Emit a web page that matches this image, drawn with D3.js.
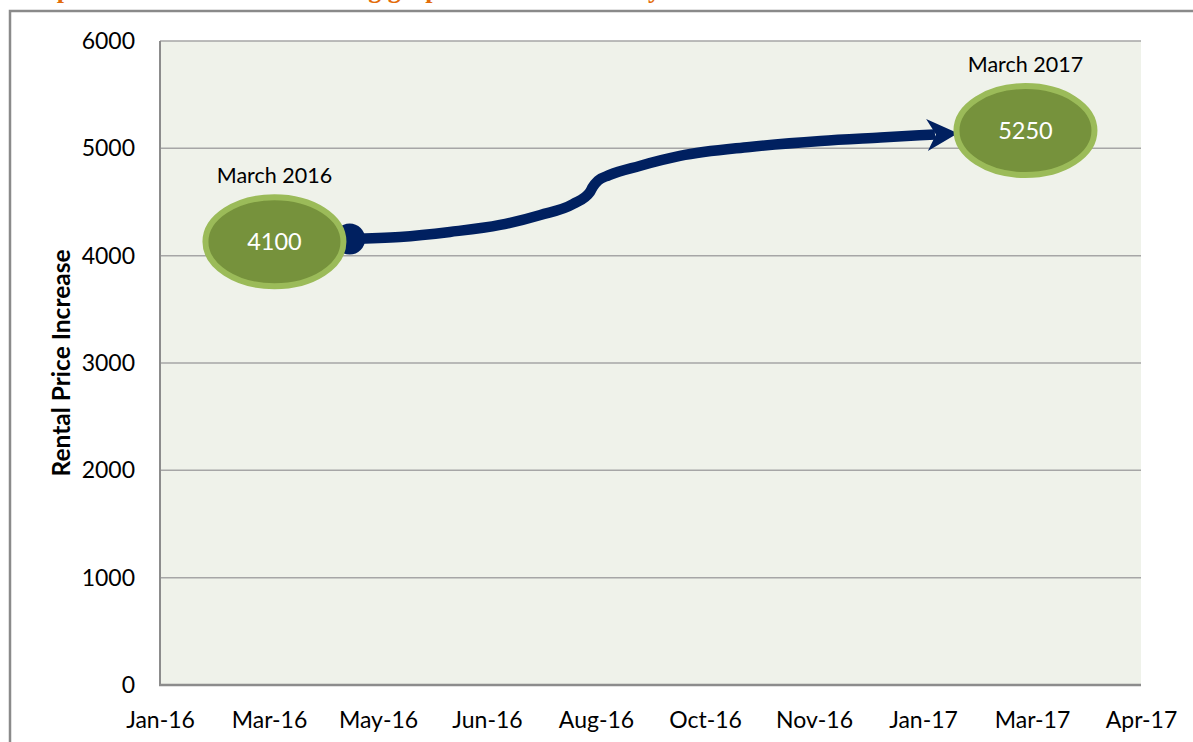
<!DOCTYPE html>
<html>
<head>
<meta charset="utf-8">
<script src="https://cdnjs.cloudflare.com/ajax/libs/d3/7.8.5/d3.min.js"></script>
<style>
  body { margin: 0; background: #fff; }
  svg { display: block; font-family: Lato, "Open Sans", sans-serif; }
</style>
</head>
<body>
<svg width="1193" height="742"></svg>
<script>
// categories on the date axis
var xLabels = ['Jan-16', 'Mar-16', 'May-16', 'Jun-16', 'Aug-16', 'Oct-16', 'Nov-16', 'Jan-17', 'Mar-17', 'Apr-17']
var yTicks = [0, 1000, 2000, 3000, 4000, 5000, 6000]

// trend arrow (position on the axis, value)
var trendIdx = [1.74, 2.20, 2.66, 3.12, 3.49, 3.79, 3.945, 3.97, 4.02, 4.12, 4.40, 4.77, 5.41, 6.06, 6.61, 7.11]
var trendVal = [4155, 4174, 4221, 4286, 4379, 4481, 4593, 4640, 4700, 4750, 4836, 4929, 5013, 5069, 5101, 5129]

// callout bubbles
var bubbleIdx = [1.05, 7.94]
var bubbleVal = [4130, 5165]
var bubbleText = ['4100', '5250']
var bubbleDate = ['March 2016', 'March 2017']

var svg = d3.select('svg')

var x = d3.scaleLinear().domain([0, xLabels.length - 1]).range([160, 1141])
var y = d3.scaleLinear().domain([0, 6000]).range([685, 41])

// outer frame and clipped heading
svg.append('rect')
  .attr('x', 10).attr('y', 11)
  .attr('width', 1200).attr('height', 760)
  .attr('fill', 'none')
  .attr('stroke', '#8a8a8a')
  .attr('stroke-width', 2.5)

svg.append('text')
  .attr('x', 12).attr('y', -2.5)
  .attr('fill', '#e36c0a')
  .attr('font-family', '"Liberation Serif", serif')
  .attr('font-weight', 'bold')
  .attr('font-size', 26)
  .text('Graph 1: Rental Price Increasing graph over the last one year')

// plot area
svg.append('rect')
  .attr('x', x(0)).attr('y', y(6000))
  .attr('width', x(9) - x(0)).attr('height', y(0) - y(6000))
  .attr('fill', '#eff2ea')

svg.append('g')
  .selectAll('line')
  .data(yTicks.filter((d) => d > 0))
  .enter()
    .append('line')
    .attr('x1', x(0)).attr('x2', x(9))
    .attr('y1', (d) => y(d)).attr('y2', (d) => y(d))
    .attr('stroke', '#a6a6a6')
    .attr('stroke-width', 1.5)

svg.append('line')
  .attr('x1', x(0)).attr('x2', x(0))
  .attr('y1', y(6000)).attr('y2', y(0))
  .attr('stroke', '#8c8c8c').attr('stroke-width', 2)

svg.append('line')
  .attr('x1', x(0) - 1).attr('x2', x(9))
  .attr('y1', y(0)).attr('y2', y(0))
  .attr('stroke', '#8c8c8c').attr('stroke-width', 2.5)

// axes
var yAxis = svg.append('g')
  .attr('transform', 'translate(' + x(0) + ',0)')
  .call(d3.axisLeft(y).tickValues(yTicks).tickSize(0).tickPadding(25).tickFormat(d3.format('d')))
yAxis.select('.domain').remove()
yAxis.selectAll('text').attr('font-size', 23).attr('fill', '#000').attr('font-family', 'Lato, sans-serif')

var xAxis = svg.append('g')
  .attr('transform', 'translate(0,' + y(0) + ')')
  .call(d3.axisBottom(x).tickValues(d3.range(xLabels.length)).tickSize(0).tickPadding(27).tickFormat((i) => xLabels[i]))
xAxis.select('.domain').remove()
xAxis.selectAll('text').attr('font-size', 23).attr('fill', '#000').attr('font-family', 'Lato, sans-serif')

svg.append('text')
  .attr('transform', 'translate(70,' + y(3000) + ') rotate(-90)')
  .attr('text-anchor', 'middle')
  .attr('font-size', 24.5)
  .attr('font-weight', 'bold')
  .text('Rental Price Increase')

// trend arrow
svg.append('defs')
  .append('marker')
    .attr('id', 'head')
    .attr('markerUnits', 'userSpaceOnUse')
    .attr('viewBox', '0 -17 34 34')
    .attr('refX', 8).attr('refY', 0)
    .attr('markerWidth', 34).attr('markerHeight', 34)
    .attr('orient', 'auto')
  .append('path')
    .attr('d', 'M0,-16 L31,0 L0,16 L9,0 Z')
    .attr('fill', '#002060')

var trend = trendIdx.map((d, i) => [x(d), y(trendVal[i])])

svg.append('path')
  .attr('d', d3.line().curve(d3.curveMonotoneX)(trend))
  .attr('fill', 'none')
  .attr('stroke', '#002060')
  .attr('stroke-width', 10.5)
  .attr('marker-end', 'url(#head)')

svg.append('circle')
  .attr('cx', trend[0][0]).attr('cy', trend[0][1])
  .attr('r', 15.5)
  .attr('fill', '#002060')

// bubbles
var bubbles = svg.append('g')
  .selectAll('g')
  .data(bubbleIdx.map((d, i) => ({ i: d, v: bubbleVal[i], text: bubbleText[i], date: bubbleDate[i] })))
  .enter()
    .append('g')
    .attr('transform', (d) => 'translate(' + x(d.i) + ',' + y(d.v) + ')')

bubbles.append('ellipse')
  .attr('rx', 69).attr('ry', 44.5)
  .attr('fill', '#76923c')
  .attr('stroke', '#9bbb59')
  .attr('stroke-width', 6)

bubbles.append('text')
  .attr('text-anchor', 'middle')
  .attr('dy', '0.36em')
  .attr('fill', '#fff')
  .attr('font-size', 23.5)
  .text((d) => d.text)

bubbles.append('text')
  .attr('text-anchor', 'middle')
  .attr('y', -59)
  .attr('font-size', 21.5)
  .attr('fill', '#000')
  .text((d) => d.date)
</script>
</body>
</html>
